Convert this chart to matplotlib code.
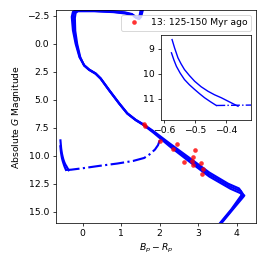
import numpy as np
import matplotlib
matplotlib.use('Agg')
import matplotlib.pyplot as plt

# isochrones (Bp-Rp, G): three slightly different tracks
iso1_x = [3.50, 3.86, 4.12, 4.12, 4.06, 3.78, 3.29, 2.77, 2.26, 1.85, 1.59, 1.38, 1.16, 0.95, 0.69, 0.47, 0.34, 0.17,
          0.04, -0.08, -0.18, -0.25, -0.28, -0.25, -0.18, 0.30, 0.80, 1.10, 1.28, 1.35, 1.42, 1.48, 1.52]
iso1_y = [16.3, 14.8, 13.55, 13.2, 12.92, 12.5, 11.5, 10.18, 8.9, 7.83, 7.22, 6.79, 6.2, 5.31, 4.13, 3.09, 2.65, 2.3,
          1.91, 1.2, 0.0, -1.2, -2.4, -2.85, -2.97, -2.96, -2.9, -2.8, -2.65, -2.4, -2.3, -2.5, -3.2]
iso2_x = [3.52, 3.88, 4.15, 4.16, 4.11, 3.81, 3.29, 2.77, 2.26, 1.85, 1.59, 1.38, 1.16, 0.95, 0.69, 0.47, 0.34, 0.17,
          0.04, -0.07, -0.16, -0.22, -0.24, -0.22, -0.15, 0.30, 0.80, 1.10, 1.30, 1.38, 1.45, 1.50, 1.55]
iso2_y = [16.3, 14.8, 13.6, 13.4, 13.17, 12.72, 11.68, 10.35, 9.03, 7.9, 7.25, 6.81, 6.22, 5.33, 4.15, 3.11, 2.67, 2.32,
          1.93, 1.2, 0.01, -1.17, -2.35, -2.8, -2.93, -2.93, -2.85, -2.75, -2.6, -2.35, -2.25, -2.45, -3.2]
iso3_x = [3.54, 3.90, 4.18, 4.20, 4.15, 3.84, 3.29, 2.77, 2.26, 1.85, 1.59, 1.38, 1.16, 0.95, 0.69, 0.47, 0.34, 0.17,
          0.04, -0.06, -0.14, -0.19, -0.20, -0.18, -0.12, 0.30, 0.80, 1.10, 1.32, 1.40, 1.47, 1.52, 1.58]
iso3_y = [16.3, 14.8, 13.65, 13.55, 13.42, 12.95, 11.86, 10.52, 9.16, 7.97, 7.28, 6.83, 6.24, 5.35, 4.17, 3.13, 2.69, 2.34,
          1.95, 1.2, 0.02, -1.15, -2.3, -2.75, -2.9, -2.9, -2.82, -2.7, -2.55, -2.3, -2.2, -2.4, -3.2]

# white dwarf cooling tracks
wd1_x = [-0.574, -0.566, -0.555, -0.545, -0.534, -0.518, -0.501, -0.480, -0.458, -0.437, -0.415, -0.388, -0.361]
wd1_y = [8.63, 8.96, 9.36, 9.6, 9.83, 10.07, 10.3, 10.52, 10.7, 10.84, 10.96, 11.13, 11.3]
wd2_x = [-0.576, -0.568, -0.560, -0.548, -0.534, -0.518, -0.501, -0.485, -0.469, -0.450, -0.431]
wd2_y = [9.16, 9.45, 9.7, 9.97, 10.23, 10.44, 10.63, 10.8, 10.96, 11.12, 11.27]

# dash-dot sequence
dd_x = [-0.431, -0.30, 0.00, 0.45, 0.90, 1.31, 1.60, 1.74, 1.88, 1.96, 2.00, 1.97]
dd_y = [11.27, 11.25, 11.12, 10.9, 10.7, 10.47, 10.2, 9.88, 9.45, 9.05, 8.65, 8.3]

# stars in the group
star_x = [1.59, 1.61, 2.02, 2.34, 2.44, 2.93, 2.88, 2.64, 2.83, 2.88, 3.07, 3.12, 3.10]
star_y = [7.17, 7.34, 8.67, 9.41, 8.97, 9.47, 10.12, 10.54, 10.45, 10.83, 10.68, 11.18, 11.6]


def draw_tracks(ax, lw):
    for xs, ys in [(iso1_x, iso1_y), (iso2_x, iso2_y), (iso3_x, iso3_y)]:
        ax.plot(xs, ys, color='b', lw=lw)
    ax.plot(wd1_x, wd1_y, color='b', lw=lw)
    ax.plot(wd2_x, wd2_y, color='b', lw=lw)
    ax.plot(dd_x, dd_y, color='b', lw=lw, ls='-.')


fig = plt.figure(figsize=(4, 4), dpi=66.5)
ax = fig.add_axes([0.209, 0.162, 0.753, 0.8])
draw_tracks(ax, 2.3)
ax.plot(star_x, star_y, 'o', color='r', ms=5, mew=0, alpha=0.8, label='13: 125-150 Myr ago')
ax.set_xlim(-0.7, 4.5)
ax.set_ylim(16.0, -3.0)
ax.set_xlabel('$B_p - R_p$')
ax.set_ylabel('Absolute $G$ Magnitude')
ax.legend(loc='upper right')

axins = fig.add_axes([0.605, 0.549, 0.3375, 0.319])
draw_tracks(axins, 1.5)
axins.set_xlim(-0.61, -0.32)
axins.set_ylim(11.85, 8.45)

fig.savefig('out.png', dpi=66.5)
